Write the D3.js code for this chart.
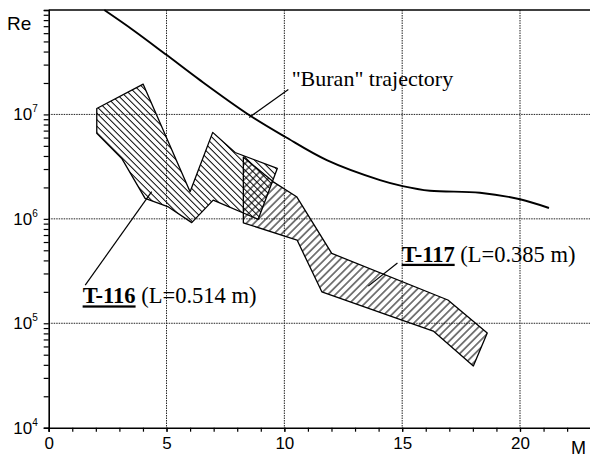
<!DOCTYPE html>
<html>
<head>
<meta charset="utf-8">
<script src="https://cdn.jsdelivr.net/npm/d3@7"></script>
<style>
  body { margin: 0; background: #fff; }
  .tick line { stroke: #000; }
  .domain { stroke: #000; stroke-width: 1.6px; }
</style>
</head>
<body>
<div id="svg-area"></div>
<script>
// Re(M) data
var t116M  = [2.04, 4.01, 6.00, 6.96, 7.91, 9.70, 8.89, 6.98, 6.07, 5.08, 4.09, 3.10, 2.04];
var t116Re = [1.14e7, 1.95e7, 1.82e6, 6.73e6, 4.32e6, 3.04e6, 9.9e5, 1.51e6, 9.2e5, 1.30e6, 1.57e6, 3.79e6, 6.58e6];

var t117M  = [8.26, 9.53, 10.52, 12.01, 16.94, 18.61, 18.02, 16.32, 15.05, 11.59, 10.54, 8.26];
var t117Re = [3.90e6, 2.26e6, 1.63e6, 4.67e5, 1.67e5, 8.06e4, 3.90e4, 8.43e4, 1.06e5, 2.00e5, 6.27e5, 9.16e5];

var buranM  = [2.36, 3.59, 5.01, 6.42, 8.47, 10.03, 11.80, 14.06, 15.02, 16.18, 18.30, 20.0, 21.23];
var buranRe = [1e8, 6.41e7, 3.70e7, 2.13e7, 1e7, 6.11e6, 3.65e6, 2.35e6, 2.06e6, 1.86e6, 1.78e6, 1.54e6, 1.27e6];

var xMajor = [0, 5, 10, 15, 20];
var xGrid = [5, 10, 15, 20];
var yDecades = [4, 5, 6, 7];
var yGrid = [1e5, 1e6, 1e7];

var svgWidth = 590, svgHeight = 457;
var margin = { top: 10, left: 48.7, bottom: 29.3 };

var x = d3.scaleLinear().domain([0, 23]).range([margin.left, margin.left + 23 * 23.565]);
var y = d3.scaleLog().domain([1e4, 1e8]).range([svgHeight - margin.bottom, margin.top]);

var svg = d3.select('#svg-area').append('svg')
  .attr('width', svgWidth)
  .attr('height', svgHeight)
  .style('display', 'block');

var defs = svg.append('defs');
function hatch(id, gap, angle) {
  defs.append('pattern')
    .attr('id', id)
    .attr('patternUnits', 'userSpaceOnUse')
    .attr('width', gap).attr('height', 10)
    .attr('patternTransform', 'rotate(' + angle + ')')
    .append('line')
    .attr('x1', gap / 2).attr('y1', -1).attr('x2', gap / 2).attr('y2', 11)
    .attr('stroke', '#000').attr('stroke-width', 1);
}
hatch('hatch116', 4.6, -45);
hatch('hatch117', 5.4, 45);

// grid
svg.append('g').selectAll('line.gx').data(xGrid).enter().append('line')
  .attr('x1', d => x(d)).attr('x2', d => x(d))
  .attr('y1', y(1e8)).attr('y2', y(1e4))
  .attr('stroke', '#222').attr('stroke-width', 1).attr('stroke-dasharray', '1.5,1');
svg.append('g').selectAll('line.gy').data(yGrid).enter().append('line')
  .attr('x1', x(0)).attr('x2', svgWidth)
  .attr('y1', d => y(d)).attr('y2', d => y(d))
  .attr('stroke', '#222').attr('stroke-width', 1).attr('stroke-dasharray', '1.5,1');

// hatched regions
function region(ms, res, fillId) {
  var pts = ms.map((m, i) => [x(m), y(res[i])]);
  svg.append('path')
    .attr('d', d3.line()(pts) + 'Z')
    .attr('fill', 'url(#' + fillId + ')')
    .attr('stroke', '#000')
    .attr('stroke-width', 1.3)
    .attr('stroke-linejoin', 'round');
}
region(t116M, t116Re, 'hatch116');
region(t117M, t117Re, 'hatch117');

// Buran trajectory
svg.append('path')
  .datum(buranM.map((m, i) => [m, buranRe[i]]))
  .attr('d', d3.line().x(d => x(d[0])).y(d => y(d[1])).curve(d3.curveCatmullRom))
  .attr('fill', 'none')
  .attr('stroke', '#000')
  .attr('stroke-width', 1.9);

// axes
var xMinor = d3.range(0, 24);
svg.append('g')
  .attr('transform', 'translate(0,' + y(1e4) + ')')
  .call(d3.axisBottom(x).tickValues(xMinor).tickSize(4).tickFormat(''))
  .selectAll('.tick line').attr('stroke-width', 1.2);

var xAx = svg.append('g')
  .attr('transform', 'translate(0,' + y(1e4) + ')')
  .call(d3.axisBottom(x).tickValues(xMajor).tickSize(4).tickPadding(5));
xAx.select('.domain').remove();
xAx.selectAll('.tick line').attr('stroke-width', 1.2);
xAx.selectAll('.tick text')
  .attr('font-family', 'Liberation Sans, Arial, sans-serif')
  .attr('font-size', 17).attr('fill', '#000');

var yMinor = [];
for (var e = 4; e < 8; e++) for (var k = 1; k <= 9; k++) yMinor.push(k * Math.pow(10, e));
yMinor.push(1e8);
var yAx = svg.append('g')
  .attr('transform', 'translate(' + x(0) + ',0)')
  .call(d3.axisLeft(y).tickValues(yMinor).tickSize(5).tickFormat(''));
yAx.selectAll('.tick line').attr('stroke-width', 1.2);

// top frame
svg.append('line')
  .attr('x1', x(0)).attr('x2', svgWidth)
  .attr('y1', y(1e8)).attr('y2', y(1e8))
  .attr('stroke', '#000').attr('stroke-width', 1.6);

// decade labels 10^n
var yl = svg.append('g').selectAll('text').data(yDecades).enter().append('text')
  .attr('x', x(0) - 11)
  .attr('y', d => y(Math.pow(10, d)) + 6)
  .attr('text-anchor', 'end')
  .attr('font-family', 'Liberation Sans, Arial, sans-serif')
  .attr('font-size', 17);
yl.append('tspan').text('10');
yl.append('tspan').attr('dy', -8).attr('font-size', 10).text(d => d);

// axis titles
svg.append('text').attr('x', 7).attr('y', 30)
  .attr('font-family', 'Liberation Sans, Arial, sans-serif').attr('font-size', 19).text('Re');
svg.append('text').attr('x', 571).attr('y', 454)
  .attr('font-family', 'Liberation Sans, Arial, sans-serif').attr('font-size', 18).text('M');

// annotations
var serif = 'Liberation Serif, Times New Roman, serif';
function leader(m1, r1, m2, r2) {
  svg.append('line')
    .attr('x1', x(m1)).attr('y1', y(r1)).attr('x2', x(m2)).attr('y2', y(r2))
    .attr('stroke', '#000').attr('stroke-width', 1.2);
}
leader(10.17, 1.73e7, 8.51, 9.36e6);
leader(1.55, 2.32e5, 4.37, 1.82e6);
leader(14.80, 3.78e5, 13.56, 2.27e5);

svg.append('text').attr('x', x(10.31)).attr('y', y(1.87e7))
  .attr('font-family', serif).attr('font-size', 22).text('"Buran" trajectory');

function model(m, r, name, len) {
  var t = svg.append('text').attr('x', x(m)).attr('y', y(r))
    .attr('font-family', serif).attr('font-size', 22.5);
  t.append('tspan').attr('font-weight', 'bold').attr('text-decoration', 'underline').text(name);
  t.append('tspan').text(' (L=' + len + ' m)');
}
model(1.44, 1.55e5, 'T-116', '0.514');
model(14.98, 3.88e5, 'T-117', '0.385');
</script>
</body>
</html>
